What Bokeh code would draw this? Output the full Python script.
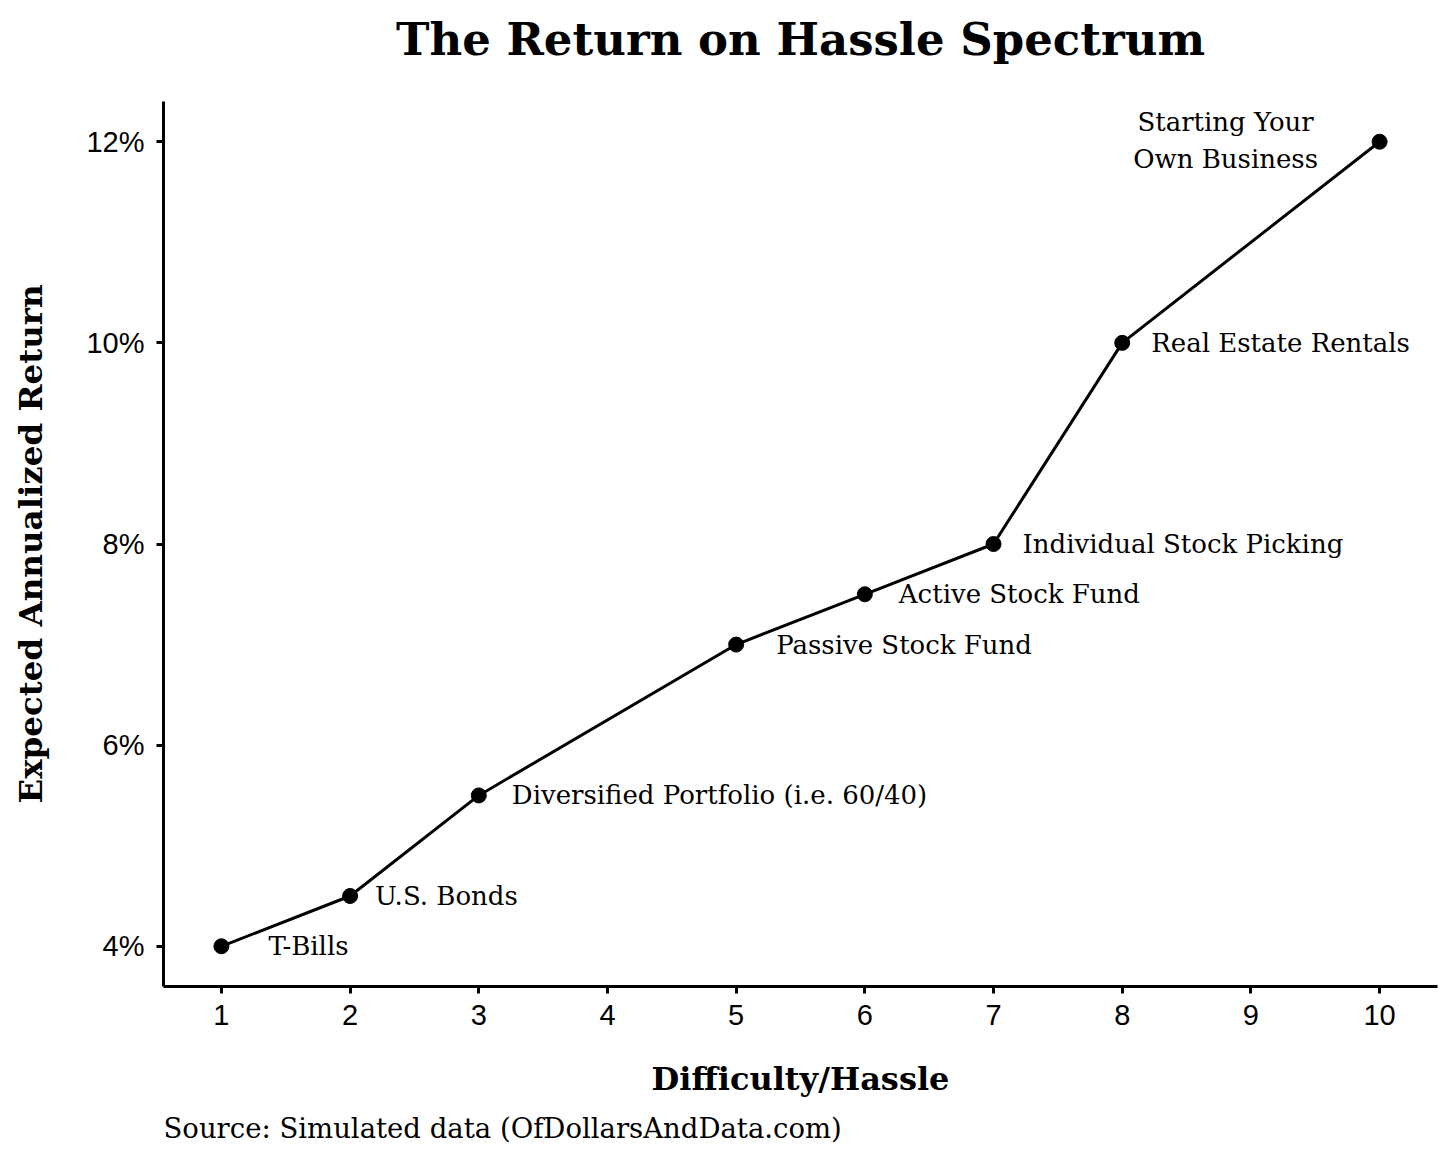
from bokeh.plotting import figure
from bokeh.models import ColumnDataSource, Range1d, FixedTicker, CustomJSTickFormatter, Title
from bokeh.core.properties import value
from bokeh.embed import file_html
from bokeh.resources import INLINE

# ---- data ----
difficulty = [1, 2, 3, 5, 6, 7, 8, 10]
expected_return = [4.0, 4.5, 5.5, 7.0, 7.5, 8.0, 10.0, 12.0]
names = ["T-Bills", "U.S. Bonds", "Diversified Portfolio (i.e. 60/40)",
         "Passive Stock Fund", "Active Stock Fund", "Individual Stock Picking",
         "Real Estate Rentals", "Starting Your\nOwn Business"]
x_ticks = [1, 2, 3, 4, 5, 6, 7, 8, 9, 10]
y_ticks = [4, 6, 8, 10, 12]

title_text = "The Return on Hassle Spectrum"
x_label = "Difficulty/Hassle"
y_label = "Expected Annualized Return"
caption = "Source: Simulated data (OfDollarsAndData.com)"

# label placement (pixels, layout only)
label_dx = [47, 25, 33, 40, 34, 29, 29]

SERIF = "DejaVu Serif"
SANS = "Liberation Sans"

x0, x1 = 0.55, 10.45
y0, y1 = 3.6, 12.4

p = figure(width=1448, height=1158, output_backend="svg", toolbar_location=None,
           x_range=Range1d(x0, x1), y_range=Range1d(y0, y1),
           min_border_left=163, min_border_right=11, min_border_top=101, min_border_bottom=172)
p.outline_line_color = None
p.grid.visible = False
p.background_fill_color = "white"
p.border_fill_color = "white"

# trailing empty line lifts the title away from the frame
p.title.text = title_text + "\n"
p.title.text_font = SERIF
p.title.text_font_size = "45px"
p.title.text_font_style = "bold"
p.title.text_color = "black"
p.title.align = "center"
p.title.vertical_align = "top"
p.title.text_line_height = 0.65
p.title.standoff = 0

for ax in (p.xaxis[0], p.yaxis[0]):
    ax.axis_line_width = 3
    ax.axis_line_color = "black"
    ax.major_tick_line_width = 3
    ax.major_tick_line_color = "black"
    ax.major_tick_out = 7
    ax.major_tick_in = 0
    ax.minor_tick_line_color = None
    ax.major_label_text_font = SANS
    ax.major_label_text_font_size = "29px"
    ax.major_label_text_color = "black"
    ax.axis_label_text_font = SERIF
    ax.axis_label_text_font_style = "bold"
    ax.axis_label_text_color = "black"

p.xaxis[0].axis_label_text_font_size = "32px"
p.yaxis[0].axis_label_text_font_size = "32.5px"
p.xaxis[0].ticker = FixedTicker(ticks=x_ticks)
p.yaxis[0].ticker = FixedTicker(ticks=y_ticks)
p.yaxis[0].formatter = CustomJSTickFormatter(code="return tick.toFixed(0) + '%';")
p.xaxis[0].major_label_standoff = 11
p.yaxis[0].major_label_standoff = 12
p.xaxis[0].axis_label = x_label
p.yaxis[0].axis_label = y_label
p.xaxis[0].axis_label_standoff = 32
p.yaxis[0].axis_label_standoff = 33

p.add_layout(Title(text=caption, text_font=SERIF, text_font_size="27.5px",
                   text_font_style="normal", text_color="black", align="left",
                   standoff=18), "below")

src = ColumnDataSource(dict(x=difficulty, y=expected_return))
p.line("x", "y", source=src, line_width=3, line_color="black")
p.scatter("x", "y", source=src, size=15, fill_color="black", line_color="black")

lab_src = ColumnDataSource(dict(x=difficulty[:-1], y=expected_return[:-1],
                                t=names[:-1], dx=label_dx))
p.text("x", "y", text="t", x_offset="dx", source=lab_src,
       text_font=value(SERIF), text_font_size="26px", text_align="left",
       text_baseline="middle", text_color="black")

top_src = ColumnDataSource(dict(x=difficulty[-1:], y=expected_return[-1:], t=names[-1:]))
p.text("x", "y", text="t", x_offset=-154, y_offset=-1, source=top_src,
       text_font=value(SERIF), text_font_size="26px", text_align="center",
       text_baseline="middle", text_line_height=1.25, text_color="black")

open("out.html", "w").write(file_html(p, INLINE))
